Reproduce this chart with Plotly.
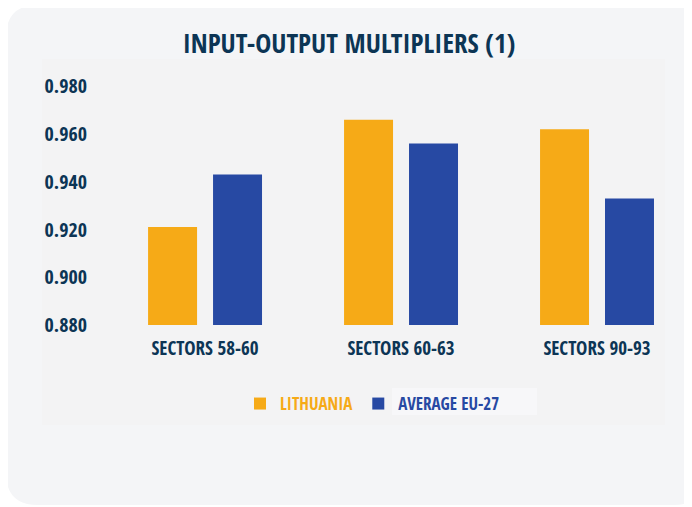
import plotly.graph_objects as go

categories = ["SECTORS 58-60", "SECTORS 60-63", "SECTORS 90-93"]
lithuania = [0.921, 0.966, 0.962]
eu27 = [0.943, 0.956, 0.933]
y_ticks = [0.880, 0.900, 0.920, 0.940, 0.960, 0.980]

ORANGE = "#f6aa17"
BLUE = "#2749a3"
NAVY = "#0c3555"
TITLE_FONT = "Open Sans Condensed, Roboto Condensed, sans-serif"
FONT = "Open Sans Condensed, Roboto Condensed, sans-serif"

W, H = 692, 507
OFF = 8  # page body margin
# plot area in reference pixel coordinates
PL, PR, PT, PB = 100, 666, 60, 325
ML, MR, MT, MB = PL - OFF, W - (PR - OFF), PT - OFF, H - (PB - OFF)
PW, PH = PR - PL, PB - PT


def px(x):
    return (x - PL) / PW


def py(y):
    return (PB - y) / PH


def rounded_rect(x0, y0, x1, y1, r):
    rx, ry = r / PW, r / PH
    X0, X1 = px(x0), px(x1)
    Y0, Y1 = py(y0), py(y1)
    return (f"M {X0+rx} {Y0} L {X1-rx} {Y0} Q {X1} {Y0} {X1} {Y0-ry} "
            f"L {X1} {Y1+ry} Q {X1} {Y1} {X1-rx} {Y1} "
            f"L {X0+rx} {Y1} Q {X0} {Y1} {X0} {Y1+ry} "
            f"L {X0} {Y0-ry} Q {X0} {Y0} {X0+rx} {Y0} Z")


fig = go.Figure()
fig.add_trace(go.Bar(
    x=categories, y=lithuania,
    name=f'<span style="color:{ORANGE}">LITHUANIA</span>',
    marker=dict(color=ORANGE, line=dict(width=0)),
))
fig.add_trace(go.Bar(
    x=categories, y=eu27,
    name=f'<span style="color:{BLUE}">AVERAGE EU-27</span>',
    marker=dict(color=BLUE, line=dict(width=0)),
))

shapes = [
    dict(type="path", xref="paper", yref="paper", layer="below",
         path=rounded_rect(6, 5, 706, 505, 32),
         fillcolor="#f4f5f7", line=dict(width=0)),
    dict(type="rect", xref="paper", yref="paper", layer="below",
         x0=px(42), x1=px(665), y0=py(425), y1=py(59),
         fillcolor="#f3f3f4", line=dict(width=0)),
    dict(type="rect", xref="paper", yref="paper", layer="below",
         x0=px(392), x1=px(537), y0=py(415), y1=py(388),
         fillcolor="#f7f7f9", line=dict(width=0)),
]

fig.update_layout(
    width=W, height=H,
    margin=dict(l=ML, r=MR, t=MT, b=MB, pad=0),
    paper_bgcolor="white",
    plot_bgcolor="rgba(0,0,0,0)",
    shapes=shapes,
    barmode="group",
    bargap=0.337,
    bargroupgap=0.246,
    title=dict(text="<b>INPUT-OUTPUT MULTIPLIERS (1)</b>",
               x=px(349), xanchor="center", xref="paper",
               y=1 - (44 - OFF) / H, yanchor="middle",
               font=dict(family=TITLE_FONT, size=27, color=NAVY)),
    font=dict(family=FONT, color=NAVY),
    xaxis=dict(range=[-0.536, 2.352], showgrid=False, zeroline=False,
               showline=False, ticks="", ticklabelstandoff=10,
               tickfont=dict(size=19, color=NAVY, weight="bold")),
    yaxis=dict(range=[0.88, 0.991], tickvals=y_ticks, tickformat=".3f",
               showgrid=False, zeroline=False, showline=False, ticks="",
               ticklabelstandoff=12,
               tickfont=dict(size=20, color=NAVY, weight="bold")),
    legend=dict(orientation="h", x=px(240), xanchor="left",
                y=py(404), yanchor="middle", bgcolor="rgba(0,0,0,0)",
                font=dict(size=17, weight="bold"), traceorder="normal",
                itemwidth=30),
    showlegend=True,
)

fig.write_html("out.html")
